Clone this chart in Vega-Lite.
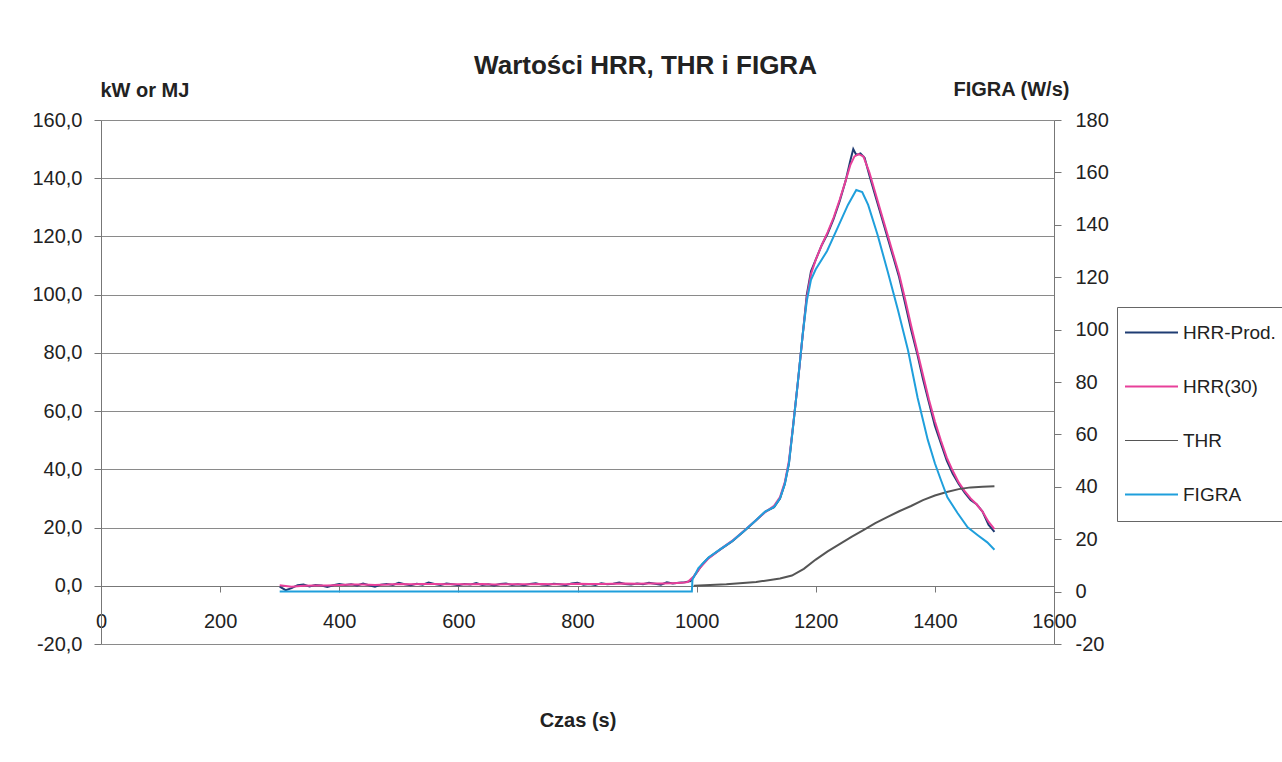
{
  "$schema": "https://vega.github.io/schema/vega-lite/v6.json",
  "width": 953,
  "height": 524,
  "autosize": "none",
  "padding": {"left": 101, "top": 120, "right": 228, "bottom": 118},
  "background": "white",
  "config": {
    "view": {"stroke": null},
    "font": "Liberation Sans",
    "axis": {"labelFont": "Liberation Sans", "labelFontSize": 20, "labelColor": "#222", "titleFont": "Liberation Sans", "titleFontSize": 20, "titleFontWeight": "bold", "titleColor": "#222", "domainColor": "#777", "tickColor": "#777", "gridColor": "#8a8a8a", "gridOpacity": 1}
  },
  "title": {"text": "Wartości HRR, THR i FIGRA", "font": "Liberation Sans", "fontSize": 26, "fontWeight": "bold", "color": "#222", "dx": 68, "offset": 0},
  "datasets": {
    "main": [
      {"t":300,"s":"HRR-Prod.","v":-0.3},{"t":310,"s":"HRR-Prod.","v":-1.5},{"t":320,"s":"HRR-Prod.","v":-0.8},{"t":330,"s":"HRR-Prod.","v":0.2},{"t":340,"s":"HRR-Prod.","v":0.4},{"t":350,"s":"HRR-Prod.","v":-0.2},{"t":360,"s":"HRR-Prod.","v":0.3},{"t":370,"s":"HRR-Prod.","v":0.1},{"t":380,"s":"HRR-Prod.","v":-0.4},{"t":390,"s":"HRR-Prod.","v":0.2},
      {"t":400,"s":"HRR-Prod.","v":0.6},{"t":410,"s":"HRR-Prod.","v":0.3},{"t":420,"s":"HRR-Prod.","v":0.5},{"t":430,"s":"HRR-Prod.","v":0.1},{"t":440,"s":"HRR-Prod.","v":0.8},{"t":450,"s":"HRR-Prod.","v":0.2},{"t":460,"s":"HRR-Prod.","v":-0.3},{"t":470,"s":"HRR-Prod.","v":0.4},{"t":480,"s":"HRR-Prod.","v":0.6},{"t":490,"s":"HRR-Prod.","v":0.3},
      {"t":500,"s":"HRR-Prod.","v":1.0},{"t":510,"s":"HRR-Prod.","v":0.5},{"t":520,"s":"HRR-Prod.","v":0.2},{"t":530,"s":"HRR-Prod.","v":0.7},{"t":540,"s":"HRR-Prod.","v":0.4},{"t":550,"s":"HRR-Prod.","v":1.1},{"t":560,"s":"HRR-Prod.","v":0.6},{"t":570,"s":"HRR-Prod.","v":0.3},{"t":580,"s":"HRR-Prod.","v":0.8},{"t":590,"s":"HRR-Prod.","v":0.5},
      {"t":600,"s":"HRR-Prod.","v":0.2},{"t":610,"s":"HRR-Prod.","v":0.6},{"t":620,"s":"HRR-Prod.","v":0.4},{"t":630,"s":"HRR-Prod.","v":0.9},{"t":640,"s":"HRR-Prod.","v":0.3},{"t":650,"s":"HRR-Prod.","v":0.5},{"t":660,"s":"HRR-Prod.","v":0.1},{"t":670,"s":"HRR-Prod.","v":0.6},{"t":680,"s":"HRR-Prod.","v":0.8},{"t":690,"s":"HRR-Prod.","v":0.3},
      {"t":700,"s":"HRR-Prod.","v":0.5},{"t":710,"s":"HRR-Prod.","v":0.2},{"t":720,"s":"HRR-Prod.","v":0.6},{"t":730,"s":"HRR-Prod.","v":0.9},{"t":740,"s":"HRR-Prod.","v":0.4},{"t":750,"s":"HRR-Prod.","v":0.3},{"t":760,"s":"HRR-Prod.","v":0.7},{"t":770,"s":"HRR-Prod.","v":0.5},{"t":780,"s":"HRR-Prod.","v":0.2},{"t":790,"s":"HRR-Prod.","v":0.8},
      {"t":800,"s":"HRR-Prod.","v":1.0},{"t":810,"s":"HRR-Prod.","v":0.4},{"t":820,"s":"HRR-Prod.","v":0.6},{"t":830,"s":"HRR-Prod.","v":0.3},{"t":840,"s":"HRR-Prod.","v":0.9},{"t":850,"s":"HRR-Prod.","v":0.5},{"t":860,"s":"HRR-Prod.","v":0.7},{"t":870,"s":"HRR-Prod.","v":1.1},{"t":880,"s":"HRR-Prod.","v":0.6},{"t":890,"s":"HRR-Prod.","v":0.4},
      {"t":900,"s":"HRR-Prod.","v":0.8},{"t":910,"s":"HRR-Prod.","v":0.5},{"t":920,"s":"HRR-Prod.","v":1.0},{"t":930,"s":"HRR-Prod.","v":0.7},{"t":940,"s":"HRR-Prod.","v":0.4},{"t":950,"s":"HRR-Prod.","v":1.2},{"t":960,"s":"HRR-Prod.","v":0.8},{"t":970,"s":"HRR-Prod.","v":1.0},{"t":980,"s":"HRR-Prod.","v":1.2},{"t":990,"s":"HRR-Prod.","v":1.6},
      {"t":1000,"s":"HRR-Prod.","v":4.5},{"t":1010,"s":"HRR-Prod.","v":7.5},{"t":1020,"s":"HRR-Prod.","v":9.6},{"t":1040,"s":"HRR-Prod.","v":12.5},{"t":1060,"s":"HRR-Prod.","v":15.3},{"t":1080,"s":"HRR-Prod.","v":18.8},{"t":1100,"s":"HRR-Prod.","v":22.5},{"t":1115,"s":"HRR-Prod.","v":25.4},{"t":1130,"s":"HRR-Prod.","v":27},{"t":1140,"s":"HRR-Prod.","v":30},
      {"t":1148,"s":"HRR-Prod.","v":35},{"t":1155,"s":"HRR-Prod.","v":42},{"t":1162,"s":"HRR-Prod.","v":55},{"t":1170,"s":"HRR-Prod.","v":70},{"t":1178,"s":"HRR-Prod.","v":86},{"t":1185,"s":"HRR-Prod.","v":100},{"t":1192,"s":"HRR-Prod.","v":108},{"t":1200,"s":"HRR-Prod.","v":112},{"t":1210,"s":"HRR-Prod.","v":117},{"t":1220,"s":"HRR-Prod.","v":121},
      {"t":1230,"s":"HRR-Prod.","v":126},{"t":1240,"s":"HRR-Prod.","v":132},{"t":1250,"s":"HRR-Prod.","v":139},{"t":1258,"s":"HRR-Prod.","v":146},{"t":1263,"s":"HRR-Prod.","v":150},{"t":1268,"s":"HRR-Prod.","v":148},{"t":1275,"s":"HRR-Prod.","v":148.5},{"t":1282,"s":"HRR-Prod.","v":147},{"t":1290,"s":"HRR-Prod.","v":141},{"t":1300,"s":"HRR-Prod.","v":134},
      {"t":1310,"s":"HRR-Prod.","v":127},{"t":1320,"s":"HRR-Prod.","v":120},{"t":1330,"s":"HRR-Prod.","v":113},{"t":1340,"s":"HRR-Prod.","v":106},{"t":1350,"s":"HRR-Prod.","v":97},{"t":1360,"s":"HRR-Prod.","v":88},{"t":1370,"s":"HRR-Prod.","v":80},{"t":1380,"s":"HRR-Prod.","v":71},{"t":1390,"s":"HRR-Prod.","v":63},{"t":1400,"s":"HRR-Prod.","v":55},
      {"t":1410,"s":"HRR-Prod.","v":49},{"t":1420,"s":"HRR-Prod.","v":43},{"t":1430,"s":"HRR-Prod.","v":38.5},{"t":1440,"s":"HRR-Prod.","v":35},{"t":1450,"s":"HRR-Prod.","v":32},{"t":1460,"s":"HRR-Prod.","v":29.5},{"t":1470,"s":"HRR-Prod.","v":28},{"t":1480,"s":"HRR-Prod.","v":25.5},{"t":1490,"s":"HRR-Prod.","v":21},{"t":1500,"s":"HRR-Prod.","v":18.5},

      {"t":300,"s":"HRR(30)","v":0.2},{"t":320,"s":"HRR(30)","v":-0.3},{"t":340,"s":"HRR(30)","v":0.0},{"t":360,"s":"HRR(30)","v":0.1},{"t":380,"s":"HRR(30)","v":0.1},{"t":400,"s":"HRR(30)","v":0.3},{"t":420,"s":"HRR(30)","v":0.4},{"t":440,"s":"HRR(30)","v":0.4},{"t":460,"s":"HRR(30)","v":0.3},{"t":480,"s":"HRR(30)","v":0.4},
      {"t":500,"s":"HRR(30)","v":0.6},{"t":520,"s":"HRR(30)","v":0.5},{"t":540,"s":"HRR(30)","v":0.6},{"t":560,"s":"HRR(30)","v":0.6},{"t":580,"s":"HRR(30)","v":0.5},{"t":600,"s":"HRR(30)","v":0.5},{"t":620,"s":"HRR(30)","v":0.5},{"t":640,"s":"HRR(30)","v":0.6},{"t":660,"s":"HRR(30)","v":0.4},{"t":680,"s":"HRR(30)","v":0.5},
      {"t":700,"s":"HRR(30)","v":0.5},{"t":720,"s":"HRR(30)","v":0.5},{"t":740,"s":"HRR(30)","v":0.6},{"t":760,"s":"HRR(30)","v":0.5},{"t":780,"s":"HRR(30)","v":0.5},{"t":800,"s":"HRR(30)","v":0.7},{"t":820,"s":"HRR(30)","v":0.6},{"t":840,"s":"HRR(30)","v":0.6},{"t":860,"s":"HRR(30)","v":0.7},{"t":880,"s":"HRR(30)","v":0.8},
      {"t":900,"s":"HRR(30)","v":0.7},{"t":920,"s":"HRR(30)","v":0.8},{"t":940,"s":"HRR(30)","v":0.8},{"t":960,"s":"HRR(30)","v":0.9},{"t":975,"s":"HRR(30)","v":1.0},{"t":985,"s":"HRR(30)","v":1.3},{"t":995,"s":"HRR(30)","v":3.2},{"t":1005,"s":"HRR(30)","v":6.0},{"t":1020,"s":"HRR(30)","v":9.4},{"t":1040,"s":"HRR(30)","v":12.6},
      {"t":1060,"s":"HRR(30)","v":15.5},{"t":1080,"s":"HRR(30)","v":19},{"t":1100,"s":"HRR(30)","v":22.6},{"t":1115,"s":"HRR(30)","v":25.3},{"t":1130,"s":"HRR(30)","v":27.5},{"t":1140,"s":"HRR(30)","v":30.5},{"t":1148,"s":"HRR(30)","v":35.5},{"t":1155,"s":"HRR(30)","v":43},{"t":1162,"s":"HRR(30)","v":55},{"t":1170,"s":"HRR(30)","v":70},
      {"t":1178,"s":"HRR(30)","v":86},{"t":1185,"s":"HRR(30)","v":99},{"t":1192,"s":"HRR(30)","v":107},{"t":1200,"s":"HRR(30)","v":112},{"t":1210,"s":"HRR(30)","v":117},{"t":1220,"s":"HRR(30)","v":121.5},{"t":1230,"s":"HRR(30)","v":126.5},{"t":1240,"s":"HRR(30)","v":132.5},{"t":1250,"s":"HRR(30)","v":139},{"t":1258,"s":"HRR(30)","v":144.5},
      {"t":1265,"s":"HRR(30)","v":147.5},{"t":1272,"s":"HRR(30)","v":148.3},{"t":1280,"s":"HRR(30)","v":147.5},{"t":1290,"s":"HRR(30)","v":142},{"t":1300,"s":"HRR(30)","v":135},{"t":1310,"s":"HRR(30)","v":128},{"t":1320,"s":"HRR(30)","v":121},{"t":1330,"s":"HRR(30)","v":114},{"t":1340,"s":"HRR(30)","v":107},{"t":1350,"s":"HRR(30)","v":98.5},
      {"t":1360,"s":"HRR(30)","v":89.5},{"t":1370,"s":"HRR(30)","v":81},{"t":1380,"s":"HRR(30)","v":72.5},{"t":1390,"s":"HRR(30)","v":64},{"t":1400,"s":"HRR(30)","v":56.5},{"t":1410,"s":"HRR(30)","v":50},{"t":1420,"s":"HRR(30)","v":44},{"t":1430,"s":"HRR(30)","v":39.5},{"t":1440,"s":"HRR(30)","v":35.5},{"t":1450,"s":"HRR(30)","v":32.5},
      {"t":1460,"s":"HRR(30)","v":30},{"t":1470,"s":"HRR(30)","v":28},{"t":1480,"s":"HRR(30)","v":25.5},{"t":1490,"s":"HRR(30)","v":22},{"t":1500,"s":"HRR(30)","v":19.5},

      {"t":995,"s":"THR","v":0},{"t":1050,"s":"THR","v":0.5},{"t":1100,"s":"THR","v":1.3},{"t":1140,"s":"THR","v":2.5},{"t":1160,"s":"THR","v":3.5},{"t":1180,"s":"THR","v":5.8},{"t":1200,"s":"THR","v":9},{"t":1220,"s":"THR","v":11.8},{"t":1240,"s":"THR","v":14.3},{"t":1260,"s":"THR","v":16.8},
      {"t":1280,"s":"THR","v":19.1},{"t":1300,"s":"THR","v":21.5},{"t":1320,"s":"THR","v":23.6},{"t":1340,"s":"THR","v":25.6},{"t":1360,"s":"THR","v":27.4},{"t":1380,"s":"THR","v":29.4},{"t":1400,"s":"THR","v":31},{"t":1420,"s":"THR","v":32.2},{"t":1440,"s":"THR","v":33.2},{"t":1460,"s":"THR","v":33.8},{"t":1480,"s":"THR","v":34.0},{"t":1500,"s":"THR","v":34.2}
    ],
    "figra": [
      {"t":300,"s":"FIGRA","v":0},{"t":992,"s":"FIGRA","v":0},{"t":993,"s":"FIGRA","v":4.6},{"t":1003,"s":"FIGRA","v":9},{"t":1020,"s":"FIGRA","v":13},{"t":1040,"s":"FIGRA","v":16.2},{"t":1060,"s":"FIGRA","v":19.3},{"t":1080,"s":"FIGRA","v":23.2},{"t":1100,"s":"FIGRA","v":27.3},{"t":1115,"s":"FIGRA","v":30.5},
      {"t":1130,"s":"FIGRA","v":32.3},{"t":1140,"s":"FIGRA","v":35.6},{"t":1148,"s":"FIGRA","v":41},{"t":1155,"s":"FIGRA","v":49},{"t":1162,"s":"FIGRA","v":63},{"t":1170,"s":"FIGRA","v":80},{"t":1178,"s":"FIGRA","v":98},{"t":1185,"s":"FIGRA","v":111},{"t":1192,"s":"FIGRA","v":119},{"t":1200,"s":"FIGRA","v":123},
      {"t":1219,"s":"FIGRA","v":130},{"t":1237,"s":"FIGRA","v":139},{"t":1254,"s":"FIGRA","v":147.6},{"t":1268,"s":"FIGRA","v":153.3},{"t":1278,"s":"FIGRA","v":152.5},{"t":1288,"s":"FIGRA","v":147.6},{"t":1304,"s":"FIGRA","v":136},{"t":1321,"s":"FIGRA","v":122},{"t":1338,"s":"FIGRA","v":107.5},{"t":1355,"s":"FIGRA","v":92},
      {"t":1371,"s":"FIGRA","v":74},{"t":1388,"s":"FIGRA","v":58},{"t":1400,"s":"FIGRA","v":49},{"t":1410,"s":"FIGRA","v":42.7},{"t":1421,"s":"FIGRA","v":36},{"t":1438,"s":"FIGRA","v":30},{"t":1455,"s":"FIGRA","v":24.5},{"t":1472,"s":"FIGRA","v":21.5},{"t":1488,"s":"FIGRA","v":18.8},{"t":1500,"s":"FIGRA","v":16}
    ]
  },
  "encoding": {
    "x": {"field": "t", "type": "quantitative", "scale": {"domain": [0, 1600], "nice": false},
      "axis": {"values": [0,200,400,600,800,1000,1200,1400,1600], "format": "d", "offset": -58, "grid": false, "domain": true, "tickSize": 6, "labelPadding": 19, "labelFlush": false, "title": "Czas (s)", "titleY": 134, "titleBaseline": "middle"}},
    "color": {"field": "s", "type": "nominal",
      "scale": {"domain": ["HRR-Prod.", "HRR(30)", "THR", "FIGRA"], "range": ["#1f3c73", "#e8409a", "#555555", "#1f9fdc"]},
      "legend": {"title": null, "orient": "none", "legendX": 1016, "legendY": 187, "symbolType": "stroke", "symbolSize": 2809, "symbolStrokeWidth": 2, "symbolOffset": 9, "labelOffset": 22, "labelFont": "Liberation Sans", "labelFontSize": 19, "labelColor": "#222", "rowPadding": 34, "padding": 16, "strokeColor": "#666", "labelLimit": 200,
        "encode": {"symbols": {"update": {"strokeWidth": {"signal": "datum.label === 'THR' ? 1 : 2"}}}}}}
  },
  "layer": [
    {
      "data": {"name": "main"},
      "mark": {"type": "line", "interpolate": "linear"},
      "encoding": {
        "y": {"field": "v", "type": "quantitative", "scale": {"domain": [-20, 160], "nice": false, "zero": false},
          "axis": {"orient": "left", "values": [-20,0,20,40,60,80,100,120,140,160], "grid": true, "tickSize": 7, "labelPadding": 12, "labelExpr": "replace(replace(format(datum.value, '.1f'), '.', ','), '\u2212', '-')", "title": "kW or MJ", "titleAngle": 0, "titleAlign": "left", "titleBaseline": "middle", "titleX": -1, "titleY": -30}},
        "strokeWidth": {"field": "s", "type": "nominal", "scale": {"domain": ["HRR-Prod.", "HRR(30)", "THR"], "range": [2, 2, 1]}, "legend": null}
      }
    },
    {
      "data": {"name": "figra"},
      "mark": {"type": "line", "strokeWidth": 2},
      "encoding": {
        "y": {"field": "v", "type": "quantitative", "scale": {"domain": [-20, 180], "nice": false, "zero": false},
          "axis": {"orient": "right", "values": [-20,0,20,40,60,80,100,120,140,160,180], "grid": false, "tickSize": 7, "labelPadding": 14, "labelExpr": "replace(format(datum.value, 'd'), '\u2212', '-')", "title": "FIGRA (W/s)", "titleAngle": 0, "titleAlign": "left", "titleBaseline": "middle", "titleX": -101, "titleY": -31}}
      }
    }
  ],
  "resolve": {"scale": {"y": "independent"}}
}
